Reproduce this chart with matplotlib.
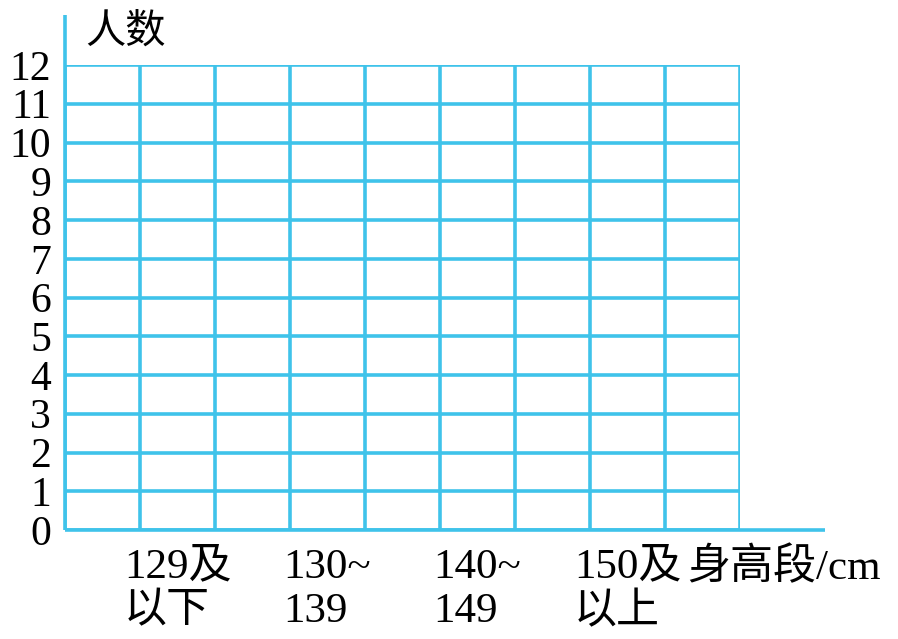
import matplotlib.pyplot as plt
import numpy as np

plt.rcParams['font.family'] = ['Liberation Serif', 'Noto Sans CJK SC']

categories = ['129及\n以下', '130~\n139', '140~\n149', '150及\n以上']
cat_pos = [1.5, 3.5, 5.5, 7.5]
y_ticks = list(range(0, 13))
n_cols = 9

blue = '#3fc3ea'

fig = plt.figure(figsize=(8.98, 6.39), dpi=100)
ax = fig.add_axes([65 / 898, 109 / 639, 675 / 898, 465 / 639])
ax.set_xlim(0, n_cols)
ax.set_ylim(0, 12)

# grid
ax.vlines(range(0, n_cols + 1), 0, 12, color=blue, lw=2.6)
ax.hlines(y_ticks, 0, n_cols, color=blue, lw=2.6)

# extended axis lines
ax.plot([0, 0], [0, 13.3], color=blue, lw=2.6, clip_on=False, solid_capstyle='butt')
ax.plot([0, 10.13], [0, 0], color=blue, lw=2.6, clip_on=False, solid_capstyle='butt')

for s in ax.spines.values():
    s.set_visible(False)

ax.set_yticks(y_ticks)
ax.set_yticklabels([str(v) for v in y_ticks], fontsize=30)
for lab in ax.get_yticklabels():
    lab.set_y(lab.get_position()[1])
ax.set_xticks(cat_pos)
ax.set_xticklabels(categories, fontsize=31, linespacing=1.2)
for lab in ax.get_xticklabels():
    lab.set_multialignment('left')
ax.tick_params(axis='y', length=0, pad=10)
ax.tick_params(axis='x', length=0, pad=13)

ax.text(0.27, 12.83, '人数', fontsize=29, ha='left', va='center')
ax.text(8.3, -0.97, '身高段/cm', fontsize=31, ha='left', va='center')

fig.savefig('out.png', dpi=100)
